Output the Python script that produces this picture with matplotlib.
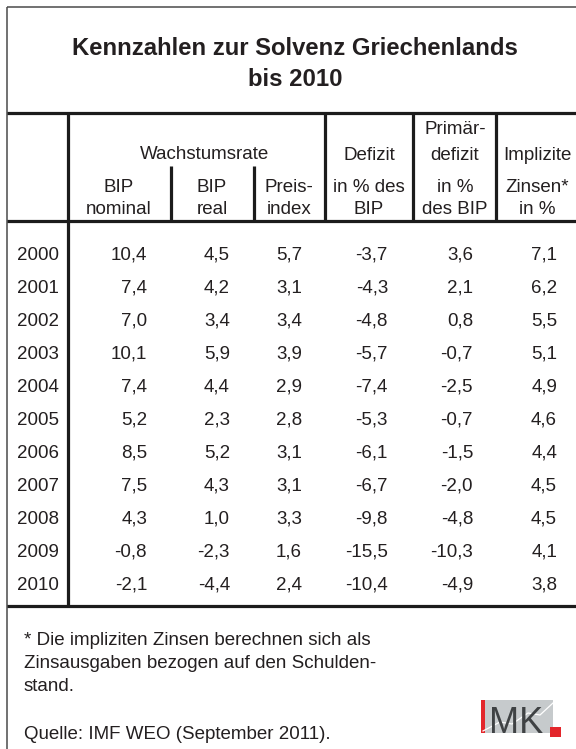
import matplotlib
matplotlib.use("Agg")
import matplotlib.pyplot as plt
from matplotlib.patches import Rectangle
from matplotlib import font_manager

# ---------------- data ----------------
title_lines = ["Kennzahlen zur Solvenz Griechenlands", "bis 2010"]
years = [2000, 2001, 2002, 2003, 2004, 2005, 2006, 2007, 2008, 2009, 2010]
bip_nominal = [10.4, 7.4, 7.0, 10.1, 7.4, 5.2, 8.5, 7.5, 4.3, -0.8, -2.1]
bip_real = [4.5, 4.2, 3.4, 5.9, 4.4, 2.3, 5.2, 4.3, 1.0, -2.3, -4.4]
preisindex = [5.7, 3.1, 3.4, 3.9, 2.9, 2.8, 3.1, 3.1, 3.3, 1.6, 2.4]
defizit = [-3.7, -4.3, -4.8, -5.7, -7.4, -5.3, -6.1, -6.7, -9.8, -15.5, -10.4]
primaerdefizit = [3.6, 2.1, 0.8, -0.7, -2.5, -0.7, -1.5, -2.0, -4.8, -10.3, -4.9]
implizite_zinsen = [7.1, 6.2, 5.5, 5.1, 4.9, 4.6, 4.4, 4.5, 4.5, 4.1, 3.8]
group_header = "Wachstumsrate"
col_headers = [
    ["BIP", "nominal"],
    ["BIP", "real"],
    ["Preis-", "index"],
    ["Defizit", "in % des", "BIP"],
    ["Primär-", "defizit", "in %", "des BIP"],
    ["Implizite", "Zinsen*", "in %"],
]
footnote_lines = [
    "* Die impliziten Zinsen berechnen sich als",
    "Zinsausgaben bezogen auf den Schulden-",
    "stand.",
]
source = "Quelle: IMF WEO (September 2011)."
logo_text = "MK"

# ---------------- layout ----------------
W, H = 576, 749
fig = plt.figure(figsize=(W / 100, H / 100), dpi=100)
ax = fig.add_axes([0, 0, 1, 1])
ax.set_xlim(0, W)
ax.set_ylim(H, 0)
ax.axis("off")

FONT = "Liberation Sans"
installed = {f.name for f in font_manager.fontManager.ttflist}
NARROW = "Liberation Sans Narrow" if "Liberation Sans Narrow" in installed else FONT
FS = 13.5
TXT = "#231f20"


def put(x, yc, s, ha="center", size=FS, weight="normal", color=TXT):
    cap_half = 0.716 * size * 100 / 72 / 2
    ax.text(x, yc + cap_half, s, ha=ha, va="baseline", fontsize=size,
            fontfamily=FONT, fontweight=weight, color=color)


# outer border (thin grey)
ax.plot([7, 7], [7, H + 2], color="#4a4a4a", lw=1.1, solid_capstyle="butt")
ax.plot([7, W + 2], [7, 7], color="#4a4a4a", lw=1.1, solid_capstyle="butt")

# title
put(295, 46, title_lines[0], size=17.2, weight="bold")
put(295, 77, title_lines[1], size=17.2, weight="bold")

# thick rules
K = "#1c1c1c"
LW = 2.3
for y in (113, 221, 606):
    ax.plot([7, W + 2], [y, y], color=K, lw=LW, solid_capstyle="butt")
ax.plot([68, 68], [113, 606], color=K, lw=LW, solid_capstyle="butt")
for x in (325, 413, 496):
    ax.plot([x, x], [113, 221], color=K, lw=LW, solid_capstyle="butt")
for x in (171, 254):
    ax.plot([x, x], [166, 221], color=K, lw=LW, solid_capstyle="butt")

# header
put(205, 152, group_header)
centers = [119, 212, 289, 369, 455, 537]
header_rows = {
    0: [185, 207],
    1: [185, 207],
    2: [185, 207],
    3: [153, 185, 207],
    4: [127, 153, 185, 207],
    5: [153, 185, 207],
}
for i, lines in enumerate(col_headers):
    for s, y in zip(lines, header_rows[i]):
        put(centers[i], y, s)

# body
series = [bip_nominal, bip_real, preisindex, defizit, primaerdefizit, implizite_zinsen]
right_edges = [147, 230, 302, 388, 473, 557]
y0, dy = 253, 33
for r, yr in enumerate(years):
    yc = y0 + r * dy
    put(17, yc, str(yr), ha="left")
    for vals, xr in zip(series, right_edges):
        put(xr, yc, f"{vals[r]:.1f}".replace(".", ","), ha="right")

# footnote and source
for s, y in zip(footnote_lines, (638, 661, 684)):
    put(24, y, s, ha="left")
put(24, 732, source, ha="left")

# IMK logo
ax.add_patch(Rectangle((481, 700), 72, 33, facecolor="#c6cacc", edgecolor="none"))
ax.plot([483, 500, 512, 528, 540, 553], [731, 722, 724, 713, 715, 703],
        color="white", lw=0.9)
ax.add_patch(Rectangle((481, 700), 4, 33, facecolor="#e3262b", edgecolor="none"))
ax.add_patch(Rectangle((550, 727), 11, 10, facecolor="#e3262b", edgecolor="none"))
ax.text(489, 733, logo_text, ha="left", va="baseline",
        fontsize=32 if NARROW != FONT else 26,
        fontfamily=NARROW, color="#3f4244")

fig.savefig("out.png", dpi=100)
